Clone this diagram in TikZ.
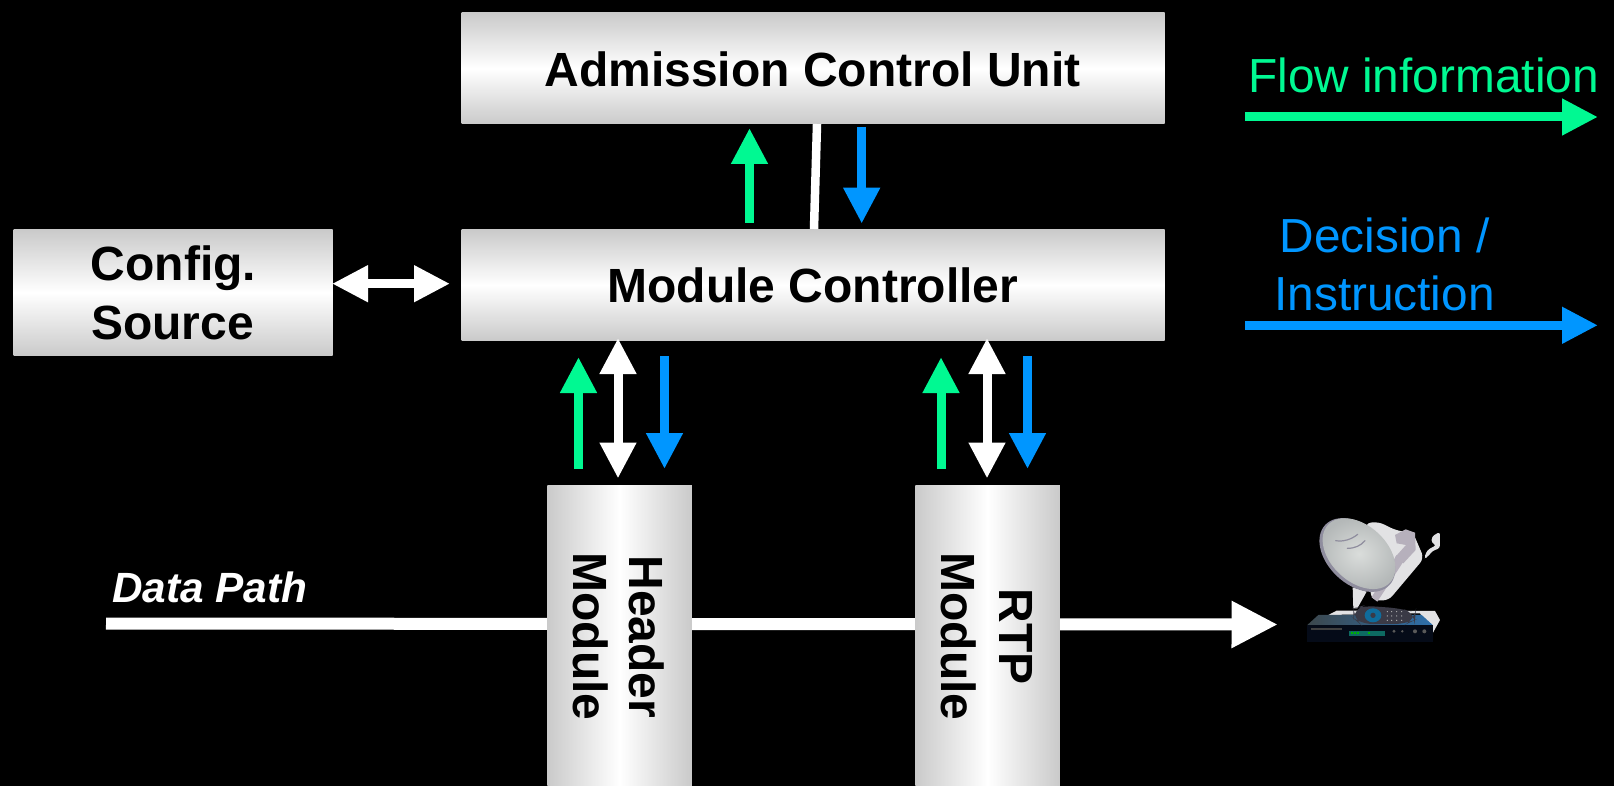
\documentclass[tikz,border=0pt]{standalone}
\usepackage{fontspec}
\setmainfont{Liberation Sans}
\usetikzlibrary{arrows.meta,shapes.geometric,calc}
\definecolor{flowgreen}{HTML}{00F992}
\definecolor{decblue}{HTML}{0096FF}
\definecolor{boxgrey}{HTML}{CACACA}
\definecolor{pale}{HTML}{E2E2E4}
\definecolor{dishrim}{HTML}{8F8D9E}
\definecolor{dishin}{HTML}{DADDDB}
\definecolor{dishout}{HTML}{B4B8B8}
\definecolor{feed}{HTML}{B6B0BC}
\definecolor{remote}{HTML}{3A3A46}
\definecolor{keypad}{HTML}{0F6C9C}
\definecolor{rxfront}{HTML}{050B18}
\definecolor{rxtopl}{HTML}{3C474C}
\definecolor{rxtopr}{HTML}{2E70AC}
\definecolor{rxdisp}{HTML}{0D6A62}
\newcommand{\fs}[1]{\fontsize{#1}{#1}\selectfont}
\tikzset{
 hbox/.style={inner sep=0pt,outer sep=0pt,top color=boxgrey,bottom color=boxgrey,middle color=white},
 vbox/.style={inner sep=0pt,outer sep=0pt,left color=boxgrey,right color=boxgrey,middle color=white},
 boxlabel/.style={inner sep=0pt,outer sep=0pt,text=black,font=\bfseries\fs{48}},
 arr/.style={line width=9pt,-{Triangle[length=36pt,width=34.5pt]}},
 darr/.style={line width=9pt,{Triangle[length=36pt,width=34.5pt]}-{Triangle[length=36pt,width=34.5pt]}},
 flowarr/.style={arr,draw=flowgreen},
 decarr/.style={arr,draw=decblue},
 whitearr/.style={darr,draw=white},
}
\begin{document}
\begin{tikzpicture}[x=1pt,y=-1pt]
\useasboundingbox (0,0) rectangle (1614,786);
\fill[black] (0,0) rectangle (1614,786);
% data path behind modules
\coordinate (dpstart) at (106,623.5);
\coordinate (dpend) at (1278,624.5);
\draw[line width=12pt,draw=white,-{Triangle[length=46.5pt,width=44pt]}] (dpstart) -- (dpend);
% boxes
\node[hbox,minimum width=703pt,minimum height=111pt] (acu) at (813,68.5) {};
\node[hbox,minimum width=703pt,minimum height=111pt] (mc) at (813,285) {};
\node[hbox,minimum width=319pt,minimum height=126pt] (cfg) at (173,292.5) {};
\node[vbox,minimum width=144.5pt,minimum height=301pt] (hdr) at (619.5,635.5) {};
\node[vbox,minimum width=144.5pt,minimum height=301pt] (rtp) at (987.5,635.5) {};
% labels
\node[boxlabel,anchor=base] (acut) at (812.5,86.5) {Admission Control Unit};
\node[boxlabel,anchor=base] (mct) at (813,302.5) {Module Controller};
\node[boxlabel,anchor=base] (cfg1) at (173.5,280.5) {Config.};
\node[boxlabel,anchor=base] (cfg2) at (172.5,339) {Source};
\node[boxlabel,anchor=base,rotate=-90] (hdr1) at (629.5,637) {Header};
\node[boxlabel,anchor=base,rotate=-90] (hdr2) at (573,636.5) {Module};
\node[boxlabel,anchor=base,rotate=-90] (rtp1) at (999,636.5) {RTP};
\node[boxlabel,anchor=base,rotate=-90] (rtp2) at (941,636.5) {Module};
% ACU <-> MC
\coordinate (g1a) at (749.5,223); \coordinate (g1b) at (749.5,128);
\coordinate (b1a) at (861.7,127); \coordinate (b1b) at (861.7,223.7);
\coordinate (w1a) at (817,124); \coordinate (w1b) at (814,229);
\draw[flowarr] (g1a) -- (g1b);
\draw[decarr] (b1a) -- (b1b);
\draw[white,line width=8.5pt] (w1a) -- (w1b);
% config
\coordinate (w0a) at (332,283.7); \coordinate (w0b) at (450,283.7);
\draw[whitearr] (w0a) -- (w0b);
% header group
\coordinate (g2a) at (578.5,469); \coordinate (g2b) at (578.5,357);
\coordinate (w2a) at (618,338); \coordinate (w2b) at (618,478.5);
\coordinate (b2a) at (664.5,356); \coordinate (b2b) at (664.5,469);
\draw[flowarr] (g2a) -- (g2b);
\draw[whitearr] (w2a) -- (w2b);
\draw[decarr] (b2a) -- (b2b);
% rtp group
\coordinate (g3a) at (941,469); \coordinate (g3b) at (941,357);
\coordinate (w3a) at (987,338); \coordinate (w3b) at (987,478.5);
\coordinate (b3a) at (1027.5,356); \coordinate (b3b) at (1027.5,469);
\draw[flowarr] (g3a) -- (g3b);
\draw[whitearr] (w3a) -- (w3b);
\draw[decarr] (b3a) -- (b3b);
% legend
\coordinate (l1a) at (1245,117); \coordinate (l1b) at (1598,117);
\coordinate (l2a) at (1245,325.3); \coordinate (l2b) at (1598,325.3);
\draw[flowarr] (l1a) -- (l1b);
\draw[decarr] (l2a) -- (l2b);
\node[inner sep=0pt,anchor=base west,text=flowgreen,font=\fs{47.8}] (lt1) at (1248,92.5) {Flow information};
\node[inner sep=0pt,anchor=base,text=decblue,font=\fs{47.8}] (lt2) at (1384.5,252.5) {Decision /};
\node[inner sep=0pt,anchor=base,text=decblue,font=\fs{47.8}] (lt3) at (1384.5,310) {Instruction};
\node[inner sep=0pt,anchor=base west,text=white,font=\bfseries\itshape\fs{42.3}] (dpt) at (112,602.5) {Data Path};
% satellite dish and receiver
\begin{scope}[shift={(1240,480)},x=0.3333pt,y=-0.3333pt]
 % pale backdrop
 \fill[pale,rounded corners=6pt] (375,130) -- (415,125) -- (465,150) -- (520,160) -- (552,235) -- (445,362) -- (395,360) -- (380,250) -- cycle;
 \fill[pale,rounded corners=3pt] (575,170) -- (600,155) -- (600,205) -- (578,212) -- (562,232) -- (552,235) -- (562,210) -- (590,195) -- (575,190) -- cycle;
 \fill[pale] (265,405) -- (290,392) -- (585,393) -- (600,420) -- (578,460) -- (540,400) -- cycle;
 % struts
 \fill[pale] (338,322) -- (380,335) -- (352,385) -- (340,385) -- cycle;
 \fill[feed] (470,225) -- (490,245) -- (412,365) -- (395,352) -- cycle;
 % dish
 \fill[dishrim,rotate around={-43:(352,225)}] (352,225) ellipse (132 and 88);
 \shade[rotate around={-43:(357,221)},inner color=dishin,outer color=dishout] (357,221) ellipse (127 and 84);
 \draw[line width=1.2pt,draw=dishrim,line cap=round] (287,182) .. controls (310,186) and (335,178) .. (353,163);
 \draw[line width=1.2pt,draw=dishrim,line cap=round] (322,205) .. controls (345,205) and (362,197) .. (375,182);
 % feed
 \fill[feed] (465,165) -- (497,148) -- (525,158) -- (527,210) -- (490,250) -- (465,232) -- (498,195) -- (470,190) -- cycle;
 % receiver
 \shade[left color=rxtopl,right color=rxtopr] (202,435) -- (235,405) -- (545,405) -- (578,435) -- cycle;
 \fill[rxfront] (202,435) rectangle (578,487);
 \fill[gray!50!black] (213,444) rectangle (305,450);
 \fill[rxdisp] (327,453) rectangle (435,468);
 \foreach \px in {335,344,353,386} \fill[green!70!black] (\px-3,457) rectangle (\px+3,462);
 \foreach \px/\pr in {462/5,487/4,525/6,553/6} \fill[gray!70!black] (\px,454) circle (\pr);
 % remote
 \fill[remote,rounded corners=12pt] (340,385) -- (370,377) -- (480,385) -- (527,398) -- (525,420) -- (500,432) -- (360,432) -- (340,415) -- cycle;
 \fill[keypad] (399,406) ellipse (25 and 21);
 \fill[remote] (399,406) circle (8);
 \foreach \px in {442,455,470,485}
  \foreach \py in {395,408,421} \fill[gray!60!white] (\px,\py) circle (2);
\end{scope}
\end{tikzpicture}
\end{document}
